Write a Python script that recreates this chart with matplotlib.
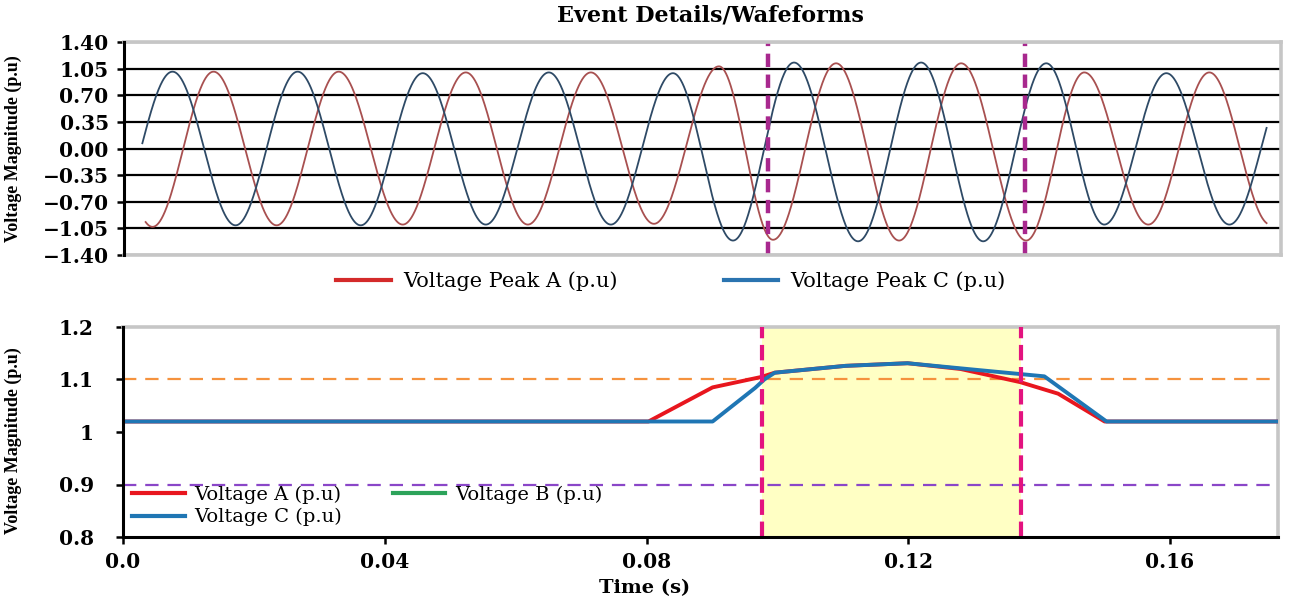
import numpy as np
import matplotlib
matplotlib.use("Agg")
import matplotlib.pyplot as plt
from matplotlib.lines import Line2D

# ---------------- data ----------------
# Top panel: instantaneous waveforms, read as successive extrema (time s, value p.u)
wave_A_t = [0.00435, 0.01366, 0.02328, 0.03275, 0.04252, 0.05214, 0.06160, 0.07122,
            0.08084, 0.09076, 0.09901, 0.10863, 0.11824, 0.12771, 0.13763, 0.14649,
            0.15626, 0.16557]
wave_A_v = [-1.03, 1.01, -1.01, 1.01, -1.00, 1.00, -1.00, 1.00,
            -0.99, 1.08, -1.20, 1.12, -1.21, 1.12, -1.21, 1.00,
            -1.00, 1.00]
wave_A_span = [0.0033, 0.1743]

wave_C_t = [0.00740, 0.01702, 0.02649, 0.03611, 0.04557, 0.05519, 0.06481, 0.07427,
            0.08374, 0.09290, 0.10221, 0.11198, 0.12160, 0.13107, 0.14069, 0.14954,
            0.15901, 0.16863]
wave_C_v = [1.01, -1.01, 1.01, -1.01, 0.99, -1.00, 1.00, -1.00,
            0.99, -1.21, 1.13, -1.22, 1.13, -1.22, 1.12, -1.00,
            0.99, -1.00]
wave_C_span = [0.0028, 0.1743]

top_event_t = [0.0982, 0.1374]
top_yticks = [1.40, 1.05, 0.70, 0.35, 0.00, -0.35, -0.70, -1.05, -1.40]
top_yticklabels = ["1.40", "1.05", "0.70", "0.35", "0.00", "\u22120.35", "\u22120.70", "\u22121.05", "\u22121.40"]

# Bottom panel: RMS voltage magnitudes
rms_A_t = [0.0, 0.0803, 0.0901, 0.0976, 0.0996, 0.1104, 0.1199, 0.1280, 0.1371, 0.1429, 0.1500, 0.1765]
rms_A_v = [1.02, 1.02, 1.085, 1.105, 1.113, 1.126, 1.131, 1.120, 1.095, 1.073, 1.020, 1.020]
rms_C_t = [0.0, 0.0901, 0.0966, 0.0980, 0.0996, 0.1104, 0.1199, 0.1307, 0.1408, 0.1503, 0.1765]
rms_C_v = [1.02, 1.02, 1.084, 1.100, 1.113, 1.126, 1.131, 1.118, 1.106, 1.020, 1.020]
upper_limit = 1.1
lower_limit = 0.9
event_t = [0.0977, 0.1373]
bot_xticks = [0.0, 0.04, 0.08, 0.12, 0.16]
bot_xticklabels = ["0.0", "0.04", "0.08", "0.12", "0.16"]
bot_yticks = [0.8, 0.9, 1.0, 1.1, 1.2]
bot_yticklabels = ["0.8", "0.9", "1", "1.1", "1.2"]
t_max = 0.1765


def smooth_through_extrema(ext_t, ext_v, span, n=5000):
    ext_t = np.asarray(ext_t)
    ext_v = np.asarray(ext_v)
    tt = np.linspace(span[0], span[1], n)
    k = np.clip(np.searchsorted(ext_t, tt) - 1, 0, len(ext_t) - 2)
    t0, t1 = ext_t[k], ext_t[k + 1]
    v0, v1 = ext_v[k], ext_v[k + 1]
    s = (tt - t0) / (t1 - t0)
    vv = (v0 + v1) / 2 + (v0 - v1) / 2 * np.cos(np.pi * s)
    return tt, vv


plt.rcParams['font.family'] = ['DejaVu Serif']

W, H = 1292, 602
fig = plt.figure(figsize=(W / 100, H / 100), dpi=100)
ax1 = fig.add_axes([124 / W, 1 - 255 / H, (1281 - 124) / W, (255 - 42) / H])
ax2 = fig.add_axes([123 / W, 1 - 537 / H, (1278 - 123) / W, (537 - 327) / H])

gray = '#c6c6c6'

# ---------------- top panel ----------------
tA, vA = smooth_through_extrema(wave_A_t, wave_A_v, wave_A_span)
tC, vC = smooth_through_extrema(wave_C_t, wave_C_v, wave_C_span)
ax1.plot(tA, vA, color='#a85050', lw=1.3, zorder=3)
ax1.plot(tC, vC, color='#2e4a66', lw=1.3, zorder=3)
for t in top_event_t:
    ax1.axvline(t, color='#a8288e', lw=3.2, ls=(0, (3, 1.7)), zorder=4, clip_on=False)
ax1.set_xlim(0, t_max)
ax1.set_ylim(-1.4, 1.4)
ax1.set_yticks(top_yticks)
ax1.set_yticklabels(top_yticklabels)
ax1.set_xticks([])
ax1.grid(axis='y', color='black', lw=1.6)
for side in ['top', 'bottom', 'right']:
    ax1.spines[side].set_color(gray)
    ax1.spines[side].set_linewidth(2.6)
    ax1.spines[side].set_zorder(5)
ax1.spines['left'].set_color('black')
ax1.spines['left'].set_linewidth(2.2)
ax1.spines['left'].set_zorder(6)
ax1.tick_params(axis='y', direction='out', length=5, width=1.8, pad=6, labelsize=14.5)
for lab in ax1.get_yticklabels():
    lab.set_fontweight('bold')
ax1.set_ylabel("Voltage Magnitude (p.u)", family='Liberation Serif', fontweight='bold', fontsize=13)
ax1.yaxis.set_label_coords((22 - 124) / (1281 - 124), 0.5)

fig.text(710 / W, 1 - 16 / H, "Event Details/Wafeforms", ha='center', va='center',
         fontsize=16, fontweight='bold')

top_handles = [Line2D([], [], color='#d42a2a', lw=3), Line2D([], [], color='#2a74b0', lw=3)]
fig.legend(top_handles, ["Voltage Peak A (p.u)", "Voltage Peak C (p.u)"], loc='center',
           bbox_to_anchor=(671 / W, 1 - 281 / H), ncol=2, frameon=False, fontsize=15,
           handlelength=2.6, handletextpad=0.6, columnspacing=5.1, borderpad=0)

# ---------------- bottom panel ----------------
ax2.axvspan(event_t[0], event_t[1], color='#ffffc4', zorder=0, lw=0)
ax2.axhline(upper_limit, color='#f5923e', lw=1.6, ls=(0, (6, 4)), zorder=1)
ax2.axhline(lower_limit, color='#8a46c8', lw=1.6, ls=(0, (6, 4)), zorder=1)
ax2.plot(rms_A_t, rms_A_v, color='#e8161e', lw=2.8, zorder=3, solid_joinstyle='round')
ax2.plot(rms_C_t, rms_C_v, color='#1f76b4', lw=2.8, zorder=3.5, solid_joinstyle='round')
for t in event_t:
    ax2.axvline(t, color='#e3137f', lw=3, ls='--', zorder=4)
ax2.set_xlim(0, t_max)
ax2.set_ylim(0.8, 1.2)
ax2.set_xticks(bot_xticks)
ax2.set_xticklabels(bot_xticklabels)
ax2.set_yticks(bot_yticks)
ax2.set_yticklabels(bot_yticklabels)
for side in ['top', 'right']:
    ax2.spines[side].set_color(gray)
    ax2.spines[side].set_linewidth(2.6)
for side in ['left', 'bottom']:
    ax2.spines[side].set_color('black')
    ax2.spines[side].set_linewidth(2.2)
    ax2.spines[side].set_zorder(6)
ax2.tick_params(axis='y', direction='out', length=5, width=1.8, pad=16, labelsize=14.5)
ax2.tick_params(axis='x', direction='out', length=5, width=1.8, pad=6, labelsize=14.5)
for lab in ax2.get_yticklabels() + ax2.get_xticklabels():
    lab.set_fontweight('bold')
ax2.set_ylabel("Voltage Magnitude (p.u)", family='Liberation Serif', fontweight='bold', fontsize=13)
ax2.yaxis.set_label_coords((22 - 123) / (1278 - 123), 0.46)
ax2.set_xlabel("Time (s)", fontweight='bold', fontsize=14)
ax2.xaxis.set_label_coords((645 - 123) / (1278 - 123), (537 - 588) / (537 - 327))
ax2.xaxis.label.set_va('center')

bot_handles = [Line2D([], [], color='#e8161e', lw=3),
               Line2D([], [], color='#1f76b4', lw=3),
               Line2D([], [], color='#2ca35a', lw=3)]
fig.legend(bot_handles, ["Voltage A (p.u)", "Voltage C (p.u)", "Voltage B (p.u)"],
           loc='upper left', bbox_to_anchor=(132 / W, 1 - 486 / H), ncol=2, frameon=False,
           fontsize=14, handlelength=2.7, handletextpad=0.5, columnspacing=2.6,
           labelspacing=0.2, borderpad=0, borderaxespad=0)

fig.savefig("out.png", dpi=100)
